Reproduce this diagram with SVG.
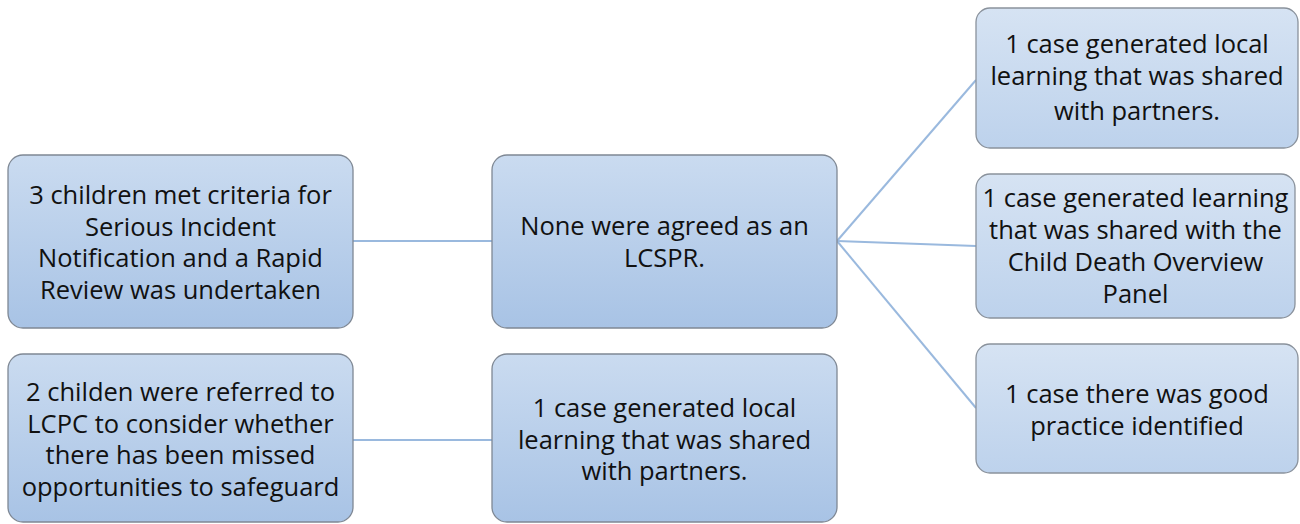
<svg xmlns="http://www.w3.org/2000/svg" width="1300" height="524" viewBox="0 0 1300 524">
<defs>
<linearGradient id="g" x1="0" y1="0" x2="0" y2="1">
<stop offset="0" stop-color="#cadbf0"/>
<stop offset="1" stop-color="#a8c3e5"/>
</linearGradient>
<linearGradient id="g2" x1="0" y1="0" x2="0" y2="1">
<stop offset="0" stop-color="#d6e3f3"/>
<stop offset="1" stop-color="#bdd2ec"/>
</linearGradient>
<style>
.box{fill:url(#g);stroke:#7f8894;stroke-width:1.3}
.box2{fill:url(#g2);stroke:#8a929c;stroke-width:1.3}
.t{font-family:"Open Sans","Liberation Sans",sans-serif;font-size:25.5px;fill:#111;text-anchor:middle}
.c{stroke:#9ab9de;stroke-width:2;fill:none}
</style>
</defs>
<rect width="1300" height="524" fill="#fff"/>
<g id="connectors">
<line class="c" x1="353" y1="241" x2="492" y2="241"/>
<line class="c" x1="353" y1="440" x2="492" y2="440"/>
<line class="c" x1="837" y1="241" x2="976" y2="80"/>
<line class="c" x1="837" y1="241" x2="976" y2="246"/>
<line class="c" x1="837" y1="241" x2="976" y2="408"/>
</g>
<g id="n1">
<rect class="box" x="8" y="155" width="345" height="173" rx="15"/>
<text class="t"><tspan x="180.5" y="204">3 children met criteria for</tspan><tspan x="180.5" y="236">Serious Incident</tspan><tspan x="180.5" y="267">Notification and a Rapid</tspan><tspan x="180.5" y="299">Review was undertaken</tspan></text>
</g>
<g id="n2">
<rect class="box" x="492" y="155" width="345" height="173" rx="15"/>
<text class="t"><tspan x="664.5" y="235">None were agreed as an</tspan><tspan x="664.5" y="267">LCSPR.</tspan></text>
</g>
<g id="n3">
<rect class="box" x="8" y="354" width="345" height="168" rx="15"/>
<text class="t"><tspan x="180.5" y="401">2 childen were referred to</tspan><tspan x="180.5" y="433">LCPC to consider whether</tspan><tspan x="180.5" y="464">there has been missed</tspan><tspan x="180.5" y="496">opportunities to safeguard</tspan></text>
</g>
<g id="n4">
<rect class="box" x="492" y="354" width="345" height="168" rx="15"/>
<text class="t"><tspan x="664.5" y="417">1 case generated local</tspan><tspan x="664.5" y="449">learning that was shared</tspan><tspan x="664.5" y="480">with partners.</tspan></text>
</g>
<g id="n5">
<rect class="box2" x="976" y="8" width="322" height="140" rx="14"/>
<text class="t"><tspan x="1137" y="53">1 case generated local</tspan><tspan x="1137" y="85">learning that was shared</tspan><tspan x="1137" y="120">with partners.</tspan></text>
</g>
<g id="n6">
<rect class="box2" x="976" y="174" width="319" height="144" rx="14"/>
<text class="t"><tspan x="1135.5" y="207">1 case generated learning</tspan><tspan x="1135.5" y="239">that was shared with the</tspan><tspan x="1135.5" y="271">Child Death Overview</tspan><tspan x="1135.5" y="303">Panel</tspan></text>
</g>
<g id="n7">
<rect class="box2" x="976" y="344" width="322" height="129" rx="14"/>
<text class="t"><tspan x="1137" y="403">1 case there was good</tspan><tspan x="1137" y="435">practice identified</tspan></text>
</g>
</svg>
